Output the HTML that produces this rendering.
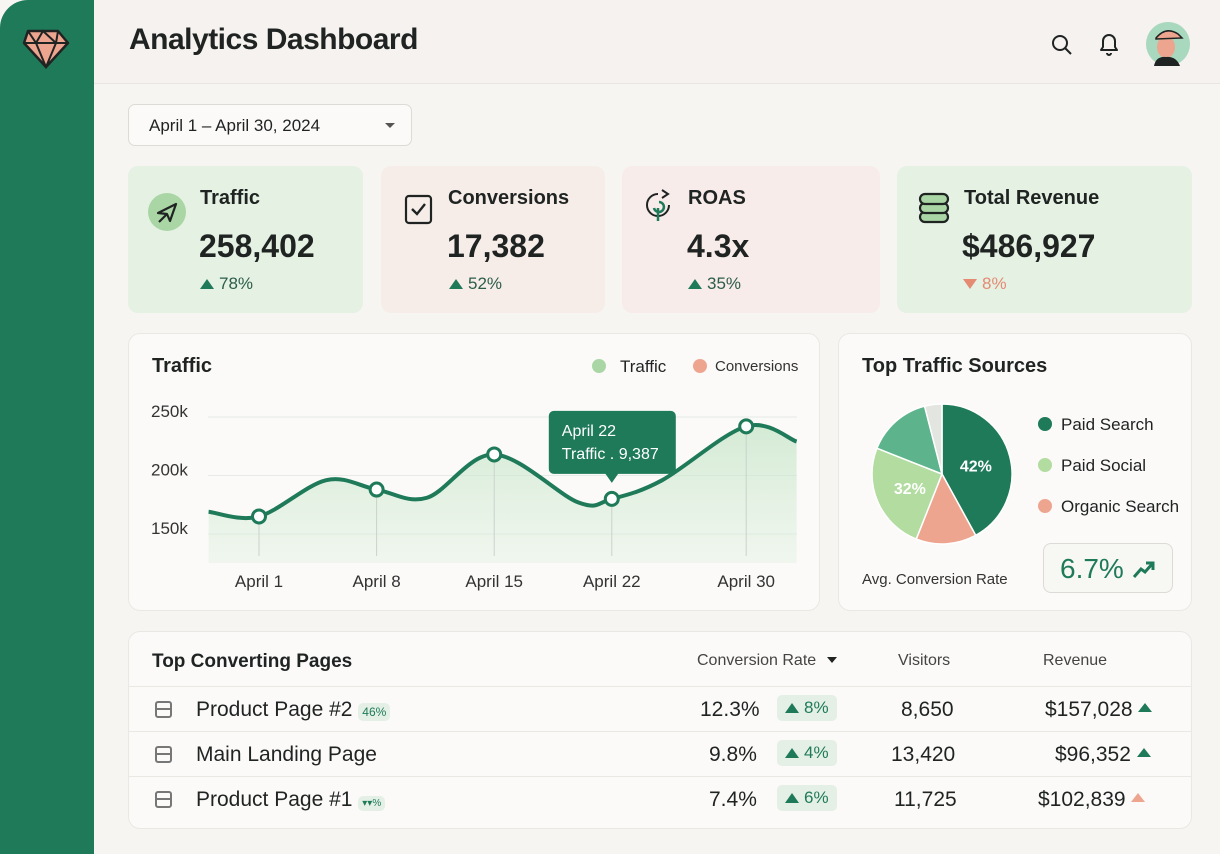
<!DOCTYPE html>
<html><head><meta charset="utf-8">
<style>
*{box-sizing:border-box;margin:0;padding:0}
body{width:1220px;height:854px;overflow:hidden;background:#f7f5f2;font-family:"Liberation Sans",sans-serif;color:#1f2322;position:relative}
.abs{position:absolute}
.sidebar{left:0;top:0;width:94px;height:854px;background:#1f7a5a;border-top-left-radius:28px}
.header{left:94px;top:0;width:1126px;height:84px;background:#f5f2ef;border-bottom:1px solid #e9e6e2}
.title{left:129px;top:23px;font-size:30px;font-weight:bold;letter-spacing:-0.5px}
.card{border-radius:10px}
.kpi-t{font-size:20px;font-weight:bold}
.kpi-v{font-size:32px;font-weight:bold}
.kpi-d{font-size:17px;color:#2c5d49}
.panel{background:#fbfaf8;border:1px solid #ebe8e4;border-radius:12px}
.tri-up{display:inline-block;width:0;height:0;border-left:7px solid transparent;border-right:7px solid transparent;border-bottom:10px solid #1f7a5a;margin-right:5px}
.row{position:absolute;left:129px;width:1062px;height:44px;border-top:1px solid #ebe8e4;font-size:21px}
.row > span{position:absolute;top:11px}
.chip{background:#e4f0e5;border-radius:5px;color:#1f7a5a;font-size:17px;padding:3px 8px}
</style></head><body>
<div class="abs sidebar">
<svg class="abs" style="left:20px;top:27px" width="52" height="42" viewBox="0 0 52 42"><polygon points="8,4 38,4 48,16 26,40 4,16" fill="#eea58f" stroke="#1f2322" stroke-width="2.5" stroke-linejoin="round"/><polyline points="4,16 48,16" fill="none" stroke="#1f2322" stroke-width="2"/><polyline points="8,4 16,16 26,40 36,16 38,4" fill="none" stroke="#1f2322" stroke-width="2"/><polyline points="16,16 23,4 36,16" fill="none" stroke="#1f2322" stroke-width="2"/></svg>
</div>
<div class="abs header"></div>
<div class="abs title">Analytics Dashboard</div>
<svg class="abs" style="left:1050px;top:33px" width="24" height="24"><circle cx="10" cy="10" r="7" fill="none" stroke="#1f2322" stroke-width="2"/><line x1="15" y1="15" x2="21" y2="21" stroke="#1f2322" stroke-width="2"/></svg>
<svg class="abs" style="left:1097px;top:31px" width="24" height="26"><path d="M4 19 L6 16 L6 10 A6 6 0 0 1 18 10 L18 16 L20 19 Z" fill="none" stroke="#1f2322" stroke-width="2" stroke-linejoin="round"/><path d="M10 22 A2 2 0 0 0 14 22" stroke="#1f2322" stroke-width="2" fill="none"/></svg>
<svg class="abs" style="left:1146px;top:22px" width="44" height="44"><circle cx="22" cy="22" r="22" fill="#a8d8bd"/><ellipse cx="20" cy="25" rx="9" ry="11" fill="#eea58f"/><path d="M10 16 Q20 4 32 12 L36 16 L10 17Z" fill="#eea58f" stroke="#1f2322" stroke-width="1.5"/><path d="M8 44 Q10 34 20 35 Q30 34 34 44Z" fill="#1f2322"/></svg>

<div class="abs" style="left:128px;top:104px;width:284px;height:42px;background:#fbfaf8;border:1px solid #dedad5;border-radius:7px;font-size:17px;padding:11px 20px">April 1 – April 30, 2024<span class="abs" style="right:16px;top:18px;border-left:5px solid transparent;border-right:5px solid transparent;border-top:5px solid #555"></span></div>

<div class="abs card" style="left:128px;top:166px;width:235px;height:147px;background:#e4f1e3">
<svg class="abs" style="left:20px;top:27px" width="38" height="38"><circle cx="19" cy="19" r="19" fill="#a9d6a4"/><path d="M10 20 L28 11 L22 28 L19 21 Z M19 21 L11 29" fill="none" stroke="#1f2322" stroke-width="2.2" stroke-linejoin="round"/></svg>
<div class="abs kpi-t" style="left:72px;top:21px">Traffic</div><div class="abs kpi-v" style="left:71px;top:62px">258,402</div><div class="abs kpi-d" style="left:72px;top:108px"><span class="tri-up"></span>78%</div></div>
<div class="abs card" style="left:381px;top:166px;width:224px;height:147px;background:#f6ede9">
<svg class="abs" style="left:23px;top:27px" width="30" height="32"><rect x="2" y="3" width="25" height="27" rx="3" fill="none" stroke="#1f2322" stroke-width="2.2"/><path d="M8 16 L13 21 L21 11" fill="none" stroke="#1f2322" stroke-width="2.4"/></svg>
<div class="abs kpi-t" style="left:67px;top:21px">Conversions</div><div class="abs kpi-v" style="left:66px;top:62px">17,382</div><div class="abs kpi-d" style="left:68px;top:108px"><span class="tri-up"></span>52%</div></div>
<div class="abs card" style="left:622px;top:166px;width:258px;height:147px;background:#f8ecea">
<svg class="abs" style="left:20px;top:20px" width="32" height="40"><path d="M16 8 A11 11 0 1 0 27 19" fill="none" stroke="#1f2322" stroke-width="2"/><path d="M20 4 L26 8 L20 12" fill="none" stroke="#1f2322" stroke-width="2"/><path d="M17 16 A5 5 0 1 1 12 22" fill="none" stroke="#1f7a5a" stroke-width="2.5"/><line x1="16" y1="22" x2="16" y2="35" stroke="#1f7a5a" stroke-width="2.5"/></svg>
<div class="abs kpi-t" style="left:66px;top:21px">ROAS</div><div class="abs kpi-v" style="left:65px;top:62px">4.3x</div><div class="abs kpi-d" style="left:66px;top:108px"><span class="tri-up"></span>35%</div></div>
<div class="abs card" style="left:897px;top:166px;width:295px;height:147px;background:#e4f1e3">
<svg class="abs" style="left:20px;top:24px" width="34" height="36"><g fill="#a9d6a4" stroke="#1f2322" stroke-width="2.2"><rect x="3" y="22" width="28" height="10" rx="5"/><rect x="3" y="13" width="28" height="10" rx="5"/><rect x="3" y="4" width="28" height="10" rx="5"/></g></svg>
<div class="abs kpi-t" style="left:67px;top:21px">Total Revenue</div><div class="abs kpi-v" style="left:65px;top:62px">$486,927</div><div class="abs kpi-d" style="left:66px;top:108px;color:#e58a73"><span style="display:inline-block;border-left:7px solid transparent;border-right:7px solid transparent;border-top:10px solid #e58a73;margin-right:5px"></span>8%</div></div>

<div class="abs panel" style="left:128px;top:333px;width:692px;height:278px"></div>
<div class="abs" style="left:152px;top:355px;font-size:20px;font-weight:bold">Traffic</div>
<div class="abs" style="left:592px;top:357px;font-size:17px"><span style="display:inline-block;width:14px;height:14px;border-radius:7px;background:#a9d6a4;vertical-align:-1px;margin-right:14px"></span>Traffic</div>
<div class="abs" style="left:693px;top:358px;font-size:15px;color:#333"><span style="display:inline-block;width:14px;height:14px;border-radius:7px;background:#eea58f;vertical-align:-2px;margin-right:8px"></span>Conversions</div>
<svg class="abs" style="left:0;top:0" width="1220" height="854" id="lc"></svg>

<div class="abs panel" style="left:838px;top:333px;width:354px;height:278px"></div>
<div class="abs" style="left:862px;top:355px;font-size:20px;font-weight:bold">Top Traffic Sources</div>
<svg class="abs" style="left:0;top:0" width="1220" height="854" id="pc"></svg>
<div class="abs" style="left:1038px;top:404px;font-size:17px;line-height:41px">
<div><span style="display:inline-block;width:14px;height:14px;border-radius:7px;background:#1f7a5a;margin-right:9px;vertical-align:-1px"></span>Paid Search</div>
<div><span style="display:inline-block;width:14px;height:14px;border-radius:7px;background:#b3dca0;margin-right:9px;vertical-align:-1px"></span>Paid Social</div>
<div><span style="display:inline-block;width:14px;height:14px;border-radius:7px;background:#eea58f;margin-right:9px;vertical-align:-1px"></span>Organic Search</div></div>
<div class="abs" style="left:862px;top:571px;font-size:15px;color:#333">Avg. Conversion Rate</div>
<div class="abs" style="left:1043px;top:543px;width:130px;height:50px;border:1px solid #dedad5;border-radius:8px;background:#f7f7f4;font-size:28px;color:#1f7a5a;padding:9px 16px">6.7% <svg width="24" height="20" style="vertical-align:-1px"><path d="M2 18 L9 10 L13 13 L21 4 M14 4 L21 4 L21 11" fill="none" stroke="#1f7a5a" stroke-width="3"/></svg></div>

<div class="abs panel" style="left:128px;top:631px;width:1064px;height:198px"></div>
<div class="abs" style="left:152px;top:651px;font-size:19px;font-weight:bold">Top Converting Pages</div>
<div class="abs" style="left:697px;top:652px;font-size:16px;color:#444">Conversion Rate <span style="display:inline-block;border-left:5px solid transparent;border-right:5px solid transparent;border-top:6px solid #1f2322;margin-left:6px;vertical-align:2px"></span></div>
<div class="abs" style="left:898px;top:652px;font-size:16px;color:#444">Visitors</div>
<div class="abs" style="left:1043px;top:652px;font-size:16px;color:#444">Revenue</div>

<div class="row" style="top:686px"><span style="left:26px;top:14px;width:17px;height:17px;border:2px solid #777;border-radius:3px"><i style="position:absolute;left:0;right:0;top:5px;border-top:2px solid #777"></i></span><span style="left:67px">Product Page #2 <b class="chip" style="font-size:12px;font-weight:normal;padding:2px 4px">46%</b></span><span style="left:571px">12.3%</span><span class="chip" style="left:648px;top:8px"><i class="tri-up"></i>8%</span><span style="left:772px">8,650</span><span style="left:916px">$157,028 <i style="display:inline-block;border-left:7px solid transparent;border-right:7px solid transparent;border-bottom:9px solid #1f7a5a;vertical-align:4px"></i></span></div>
<div class="row" style="top:731px"><span style="left:26px;top:14px;width:17px;height:17px;border:2px solid #777;border-radius:3px"><i style="position:absolute;left:0;right:0;top:5px;border-top:2px solid #777"></i></span><span style="left:67px">Main Landing Page</span><span style="left:580px">9.8%</span><span class="chip" style="left:648px;top:8px"><i class="tri-up"></i>4%</span><span style="left:762px">13,420</span><span style="left:926px">$96,352 <i style="display:inline-block;border-left:7px solid transparent;border-right:7px solid transparent;border-bottom:9px solid #1f7a5a;vertical-align:4px"></i></span></div>
<div class="row" style="top:776px"><span style="left:26px;top:14px;width:17px;height:17px;border:2px solid #777;border-radius:3px"><i style="position:absolute;left:0;right:0;top:5px;border-top:2px solid #777"></i></span><span style="left:67px">Product Page #1 <b class="chip" style="font-size:10px;font-weight:normal;padding:2px 4px">▾▾%</b></span><span style="left:580px">7.4%</span><span class="chip" style="left:648px;top:8px"><i class="tri-up"></i>6%</span><span style="left:765px">11,725</span><span style="left:909px">$102,839 <i style="display:inline-block;border-left:7px solid transparent;border-right:7px solid transparent;border-bottom:9px solid #eea58f;vertical-align:4px"></i></span></div>

<script>
const curveDays = [-2, 1, 5, 8, 11, 15, 20, 22, 25, 30, 33];
const curveValues = [169, 165, 196, 188, 181, 218, 177, 180, 196, 242, 229];
const markerDays = [1, 8, 15, 22, 30];
const markerValues = [165, 188, 218, 180, 242];
const xTickLabels = ["April 1", "April 8", "April 15", "April 22", "April 30"];
const yTicks = [150, 200, 250];
const yTickLabels = ["150k", "200k", "250k"];

const NS = "http://www.w3.org/2000/svg";
const lc = document.getElementById('lc');
const xs = d => 259 + (d - 1) * 16.8;
const ys = v => 534 - (v - 150) * 1.17;
function mk(tag, attrs, parent) { const e = document.createElementNS(NS, tag); for (const k in attrs) e.setAttribute(k, attrs[k]); parent.appendChild(e); return e; }

yTicks.forEach((t, i) => {
  const g = mk('line', {x1: 208, x2: 797, y1: ys(t), y2: ys(t), stroke: '#e6ebe6', 'stroke-width': 1}, lc);
  
  
  const tx = mk('text', {x: 151, y: ys(t) - 0, 'font-size': 17, fill: '#333', 'font-family': 'Liberation Sans'}, lc);
  tx.textContent = yTickLabels[i];
  
  
});
const pts = curveDays.map((d, i) => [xs(d), ys(curveValues[i])]);
let path = `M${pts[0][0]},${pts[0][1]}`;
for (let i = 0; i < pts.length - 1; i++) {
  const p0 = pts[Math.max(0, i - 1)], p1 = pts[i], p2 = pts[i + 1], p3 = pts[Math.min(pts.length - 1, i + 2)];
  const c1 = [p1[0] + (p2[0] - p0[0]) / 6, p1[1] + (p2[1] - p0[1]) / 6];
  const c2 = [p2[0] - (p3[0] - p1[0]) / 6, p2[1] - (p3[1] - p1[1]) / 6];
  path += ` C${c1[0]},${c1[1]} ${c2[0]},${c2[1]} ${p2[0]},${p2[1]}`;
}
const defs = mk('defs', {}, lc);
const gr = mk('linearGradient', {id: 'gf', x1: 0, y1: 0, x2: 0, y2: 1}, defs);
mk('stop', {offset: 0, 'stop-color': '#b9e0bd', 'stop-opacity': 0.6}, gr);
mk('stop', {offset: 1, 'stop-color': '#dff0df', 'stop-opacity': 0.4}, gr);
const area = mk('path', {d: path + ` L${pts[pts.length - 1][0]},563 L${pts[0][0]},563 Z`, fill: 'url(#gf)'}, lc);


markerDays.forEach((d, i) => {
  const v = mk('line', {x1: xs(d), x2: xs(d), y1: ys(markerValues[i]), y2: 556, stroke: '#c9d3cc', 'stroke-width': 1}, lc);
  
  
});
const line = mk('path', {d: path, fill: 'none', stroke: '#1f7a5a', 'stroke-width': 4}, lc);


markerDays.forEach((d, i) => {
  const c = mk('circle', {cx: xs(d), cy: ys(markerValues[i]), r: 6.5, fill: '#fff', stroke: '#1f7a5a', 'stroke-width': 3}, lc);
  
  
  const t = mk('text', {x: xs(d), y: 587, 'font-size': 17, fill: '#333', 'text-anchor': 'middle', 'font-family': 'Liberation Sans'}, lc);
  t.textContent = xTickLabels[i];
  
  
});
const tx0 = xs(22), ty0 = ys(markerValues[3]);
const tip = mk('g', {}, lc);


mk('rect', {x: tx0 - 63, y: ty0 - 88, width: 127, height: 63, rx: 5, fill: '#1f7a5a'}, tip);
mk('polygon', {points: `${tx0 - 7},${ty0 - 26} ${tx0 + 7},${ty0 - 26} ${tx0},${ty0 - 16}`, fill: '#1f7a5a'}, tip);
const t1 = mk('text', {x: tx0 - 50, y: ty0 - 63, 'font-size': 16, fill: '#fff', 'font-family': 'Liberation Sans'}, tip); t1.textContent = 'April 22';
const t2 = mk('text', {x: tx0 - 50, y: ty0 - 40, 'font-size': 16, fill: '#fff', 'font-family': 'Liberation Sans'}, tip); t2.textContent = 'Traffic . 9,387';

const sliceNames = ["Paid Search", "Organic Search", "Paid Social", "Other Green", "Other"];
const sliceValues = [42, 14, 25, 15, 4];
const sliceLabels = ["42%", "", "32%", "", ""];
const sliceColors = ["#1f7a5a", "#eea58f", "#b3dca0", "#5db48c", "#e3e6e0"];
const pc = document.getElementById('pc');
const cx = 942, cy = 474, r = 70;
const total = sliceValues.reduce((a, b) => a + b, 0);
let a0 = 0;
sliceValues.forEach((v, i) => {
  const a1 = a0 + v / total * 2 * Math.PI;
  const p = (a) => [cx + r * Math.sin(a), cy - r * Math.cos(a)];
  const [x0, y0] = p(a0), [x1, y1] = p(a1);
  const s = mk('path', {d: `M${cx},${cy} L${x0},${y0} A${r},${r} 0 ${a1 - a0 > Math.PI ? 1 : 0} 1 ${x1},${y1} Z`, fill: sliceColors[i], stroke: '#fff', 'stroke-width': 1.5}, pc);
  
  
  if (sliceLabels[i]) {
    const am = (a0 + a1) / 2;
    const t = mk('text', {x: cx + r * 0.5 * Math.sin(am), y: cy - r * 0.5 * Math.cos(am) + 6, 'font-size': 16, 'font-weight': 'bold', fill: '#fff', 'text-anchor': 'middle', 'font-family': 'Liberation Sans'}, pc);
    t.textContent = sliceLabels[i];
    
    
  }
  a0 = a1;
});
</script>
</body></html>
